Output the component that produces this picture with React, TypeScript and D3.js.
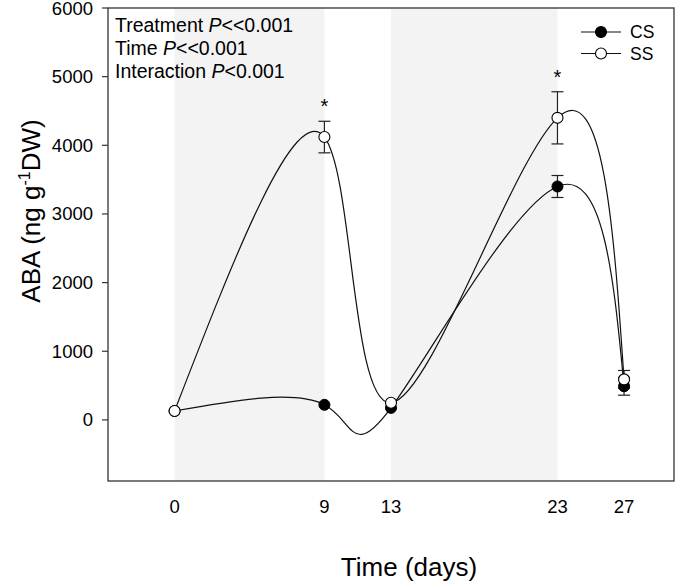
import React from "react";
import * as d3 from "d3";

const days = [0, 9, 13, 23, 27];
const csMean = [130, 220, 175, 3400, 490];
const csErr = [20, 30, 30, 160, 130];
const ssMean = [130, 4120, 250, 4400, 590];
const ssErr = [20, 230, 30, 380, 130];
const yTicks = [0, 1000, 2000, 3000, 4000, 5000, 6000];
const shaded = [[0, 9], [13, 23]];
const starDays = [9, 23];
const statLines = [
  ["Treatment ", "P", "<<0.001"],
  ["Time ", "P", "<<0.001"],
  ["Interaction ", "P", "<0.001"],
];

const W = 678, H = 586;
const L = 108, R = 674, T = 8, B = 481;
const FONT = "'Liberation Sans', Arial, sans-serif";

export default function App() {
  const x = d3.scaleLinear().domain([-4, 30]).range([L, R]);
  const y = d3.scaleLinear().domain([-890, 6000]).range([B, T]);
  const line = d3
    .line<[number, number]>()
    .x((d) => x(d[0]))
    .y((d) => y(d[1]))
    .curve(d3.curveNatural);
  const cs = days.map((d, i) => [d, csMean[i]] as [number, number]);
  const ss = days.map((d, i) => [d, ssMean[i]] as [number, number]);

  const errBars = (means: number[], errs: number[], key: string) =>
    days.map((d, i) => {
      if (errs[i] <= 40) return null;
      const cx = x(d);
      const y1 = y(means[i] + errs[i]);
      const y2 = y(means[i] - errs[i]);
      return (
        <g key={key + i} stroke="#222" strokeWidth={1.2}>
          <line x1={cx} x2={cx} y1={y1} y2={y2} />
          <line x1={cx - 6} x2={cx + 6} y1={y1} y2={y1} />
          <line x1={cx - 6} x2={cx + 6} y1={y2} y2={y2} />
        </g>
      );
    });

  return (
    <svg width={W} height={H} style={{ position: "absolute", left: 0, top: 0, background: "#fff" }} fontFamily={FONT}>
      {shaded.map(([a, b], i) => (
        <rect key={i} x={x(a)} y={T} width={x(b) - x(a)} height={B - T} fill="#f3f3f3" />
      ))}
      <path d={line(cs) || ""} fill="none" stroke="#111" strokeWidth={1.2} />
      <path d={line(ss) || ""} fill="none" stroke="#111" strokeWidth={1.2} />
      {errBars(csMean, csErr, "c")}
      {errBars(ssMean, ssErr, "s")}
      {cs.map((d, i) => (
        <circle key={"cp" + i} cx={x(d[0])} cy={y(d[1])} r={5.5} fill="#000" stroke="#000" />
      ))}
      {ss.map((d, i) => (
        <circle key={"sp" + i} cx={x(d[0])} cy={y(d[1])} r={5.5} fill="#fff" stroke="#000" strokeWidth={1.1} />
      ))}
      {starDays.map((d, i) => {
        const idx = days.indexOf(d);
        return (
          <text key={"st" + i} x={x(d)} y={y(ssMean[idx] + ssErr[idx]) - 8} fontSize={20} textAnchor="middle">
            *
          </text>
        );
      })}
      <rect x={L} y={T} width={R - L} height={B - T} fill="none" stroke="#333" strokeWidth={1.3} />
      {yTicks.map((t) => (
        <g key={"yt" + t}>
          <line x1={L - 6} x2={L} y1={y(t)} y2={y(t)} stroke="#333" strokeWidth={1.2} />
          <text x={L - 15} y={y(t) + 6.5} fontSize={18.5} textAnchor="end">
            {t}
          </text>
        </g>
      ))}
      {days.map((d) => (
        <text key={"xt" + d} x={x(d)} y={513} fontSize={18.5} textAnchor="middle">
          {d}
        </text>
      ))}
      <text x={409} y={576} fontSize={26} textAnchor="middle">
        Time (days)
      </text>
      <text transform="translate(40,211) rotate(-90)" fontSize={26} textAnchor="middle">
        ABA (ng g<tspan dy={-10} fontSize={16}>-1</tspan>
        <tspan dy={10}>DW)</tspan>
      </text>
      {statLines.map((l, i) => (
        <text key={"sl" + i} x={115} y={32 + i * 23} fontSize={19.5}>
          {l[0]}
          <tspan fontStyle="italic">{l[1]}</tspan>
          {l[2]}
        </text>
      ))}
      {[
        ["CS", "#000"],
        ["SS", "#fff"],
      ].map(([name, fill], i) => (
        <g key={name}>
          <line x1={581} x2={621} y1={32 + i * 21.5} y2={32 + i * 21.5} stroke="#111" strokeWidth={1.2} />
          <circle cx={601} cy={32 + i * 21.5} r={5.5} fill={fill} stroke="#000" strokeWidth={1.1} />
          <text x={630} y={32 + i * 21.5 + 6} fontSize={17.5}>
            {name}
          </text>
        </g>
      ))}
    </svg>
  );
}
